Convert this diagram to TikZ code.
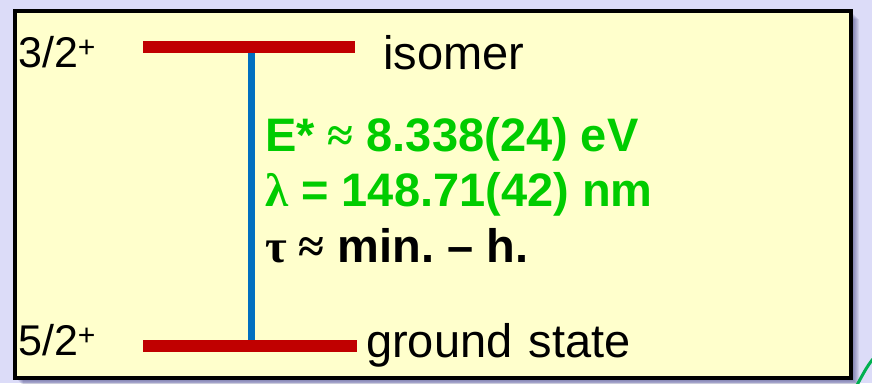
\documentclass[tikz,border=0pt]{standalone}
\usepackage{fontspec}
\setmainfont{Liberation Sans}
\newfontfamily\symfont{Liberation Serif}
\definecolor{bgviolet}{RGB}{220,220,248}
\definecolor{boxyellow}{RGB}{255,255,204}
\definecolor{levelred}{RGB}{192,0,0}
\definecolor{transblue}{RGB}{0,112,192}
\definecolor{valgreen}{RGB}{0,204,0}
\definecolor{arcgreen}{RGB}{0,176,80}
\frenchspacing

\begin{document}
\begin{tikzpicture}[x=1pt,y=-1pt]
    \tikzset{level/.style = {draw=levelred,line width=12pt}}
    \tikzset{trans/.style = {draw=transblue,line width=7pt}}
    \tikzset{spin/.style = {anchor=base west,inner sep=0pt,font=\fontsize{43}{50}\selectfont}}
    \tikzset{levelname/.style = {anchor=base west,inner sep=0pt,font=\fontsize{47}{55}\selectfont}}
    \tikzset{value/.style = {anchor=base west,inner sep=0pt,font=\fontsize{47}{55}\selectfont\bfseries}}

    % background
    \fill[bgviolet] (0,0) rectangle (872,383);
    \useasboundingbox (0,0) rectangle (872,383);

    % box with shadow
    \foreach \s in {1,2,...,8}
        \fill[black!70!blue,opacity=0.07] (15+\s,11+\s) rectangle (851+\s,378+\s);
    \draw[line width=3.5pt,fill=boxyellow] (15,11) rectangle (851,378);
    \coordinate (c1) at (857,385);
    \coordinate (c2) at (873,359);
    \draw[arcgreen,line width=3pt] (c1) .. controls (862,376) and (867,366) .. (c2);

    % levels
    \coordinate (iso-l) at (143,47);
    \coordinate (iso-r) at (355,47);
    \coordinate (iso-t) at (251,47);
    \coordinate (gs-l) at (143,346);
    \coordinate (gs-r) at (357,346);
    \coordinate (gs-t) at (251,346);
    \draw[trans] (iso-t) -- (gs-t);
    \draw[level] (iso-l) -- (iso-r);
    \draw[level] (gs-l) -- (gs-r);

    % labels
    \node[spin] (spin-iso) at (18,67) {3/2\textsuperscript{+}};
    \node[levelname] (iso) at (383,69) {isomer};
    \node[spin] (spin-gs) at (18,355) {5/2\textsuperscript{+}};
    \node[levelname] (gs) at (366,357) {ground\hspace{3pt} state};
    \node[value,valgreen] (energy) at (265,151) {E* {\symfont ≈} 8.338(24) eV};
    \node[value,valgreen] (wave) at (265,206) {{\symfont λ} = 148.71(42) nm};
    \node[value] (life) at (265,262) {{\symfont τ ≈} min. – h.};
\end{tikzpicture}
\end{document}
